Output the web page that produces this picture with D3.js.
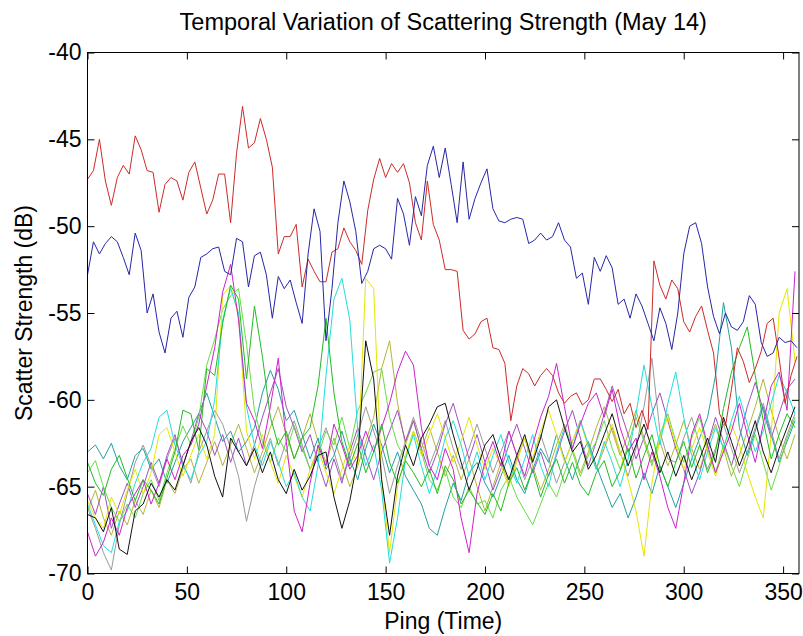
<!DOCTYPE html>
<html>
<head>
  <meta charset="utf-8">
  <script src="https://d3js.org/d3.v7.min.js"></script>
  <style>
    body { margin: 0; background: white; }
    svg { display: block; font-family: "Liberation Sans", Arial, sans-serif; }
    .tick text { font-size: 23px; fill: black; }
    .tick line { stroke: black; }
    .axis path.domain { display: none; }
  </style>
</head>
<body>
<script type="text/javascript">
// ping numbers are sample index * step
var mainStep = 3;   // red / blue traces
var noiseStep = 4;  // the other traces

var xTicks = [0, 50, 100, 150, 200, 250, 300, 350];
var yTicks = [-70, -65, -60, -55, -50, -45, -40];

var red = [
  -47.3,-46.8,-45.0,-47.4,-48.8,-47.2,-46.5,-47.0,-44.8,-45.6,
  -46.8,-46.9,-49.2,-47.6,-47.2,-47.4,-48.5,-46.9,-46.3,-47.8,
  -49.3,-48.5,-47.0,-47.0,-49.8,-45.8,-43.1,-45.5,-45.2,-43.8,
  -45.0,-46.6,-51.6,-50.6,-50.6,-49.9,-53.5,-51.9,-52.6,-53.2,
  -53.2,-51.5,-51.3,-50.1,-50.9,-51.4,-52.2,-49.1,-47.3,-46.1,
  -47.2,-46.4,-46.9,-46.4,-47.5,-49.8,-50.8,-47.4,-49.9,-50.8,
  -52.5,-52.5,-52.6,-56.0,-56.5,-56.2,-55.5,-55.3,-57.0,-57.1,
  -57.9,-61.2,-59.2,-58.2,-58.5,-59.2,-58.6,-58.2,-58.6,-59.6,
  -60.2,-59.8,-59.6,-60.3,-60.0,-58.8,-58.8,-59.4,-60.1,-59.4,
  -60.8,-60.2,-61.6,-60.6,-61.7,-52.0,-53.4,-54.2,-53.1,-53.6,
  -55.5,-56.1,-55.2,-54.6,-56.0,-57.3,-60.8,-61.5,-59.4,-57.0,
  -57.8,-59.0,-58.2,-57.2,-55.6,-55.3,-57.6,-60.2,-58.6,-57.5
];

var blue = [
  -52.8,-50.9,-51.6,-51.0,-50.6,-50.9,-51.8,-52.8,-50.4,-51.4,
  -55.0,-53.9,-56.1,-57.3,-55.3,-54.9,-56.4,-54.1,-53.5,-51.8,
  -51.6,-51.3,-51.2,-52.6,-52.8,-50.7,-50.9,-53.5,-51.7,-51.5,
  -52.8,-55.3,-52.9,-53.6,-53.1,-54.4,-55.6,-51.6,-49.0,-50.3,
  -56.6,-53.6,-49.8,-47.4,-48.6,-50.3,-53.3,-52.6,-51.3,-51.1,
  -51.3,-51.9,-48.4,-49.3,-51.1,-48.3,-49.4,-46.5,-45.4,-47.2,
  -45.5,-47.6,-49.8,-46.3,-49.6,-48.4,-47.5,-46.7,-49.0,-49.7,
  -49.8,-49.6,-49.5,-49.6,-51.0,-50.8,-50.4,-50.8,-50.6,-49.8,
  -50.8,-51.2,-53.0,-52.7,-54.5,-51.8,-52.6,-51.7,-52.4,-54.5,
  -54.2,-55.3,-53.9,-54.6,-55.6,-56.6,-54.7,-55.6,-57.1,-55.0,
  -51.6,-50.0,-49.8,-51.0,-53.5,-55.2,-56.2,-55.0,-55.8,-56.0,
  -55.5,-54.0,-54.5,-56.7,-57.5,-57.3,-56.4,-56.7,-56.6,-57.0
];

var green = [
  -63.6,-64.8,-65.5,-64.0,-63.2,-64.5,-65.8,-64.6,-65.2,-66.0,
  -64.5,-63.0,-60.6,-60.8,-62.9,-58.2,-58.6,-55.6,-53.4,-54.2,
  -58.8,-54.6,-57.5,-61.0,-62.6,-61.8,-63.4,-62.2,-61.6,-59.2,
  -55.3,-59.6,-62.4,-63.8,-62.5,-64.2,-63.0,-61.4,-63.6,-64.8,
  -63.5,-64.2,-65.0,-64.0,-65.4,-63.8,-64.6,-66.0,-65.2,-65.9,
  -66.6,-65.4,-66.4,-64.8,-63.9,-65.2,-64.0,-65.6,-64.3,-63.4,
  -64.8,-63.6,-64.9,-65.5,-64.2,-63.5,-65.0,-64.1,-62.8,-64.5,
  -63.2,-62.0,-63.8,-65.0,-63.6,-62.4,-63.9,-62.6,-64.2,-63.0,
  -60.5,-58.4,-57.0,-55.8,-58.6,-61.2,-63.4,-62.0,-60.8,-61.6
];

var lime = [
  -64.2,-63.5,-65.0,-66.2,-67.0,-66.0,-66.8,-65.4,-64.6,-65.8,
  -64.2,-62.8,-61.5,-62.6,-61.0,-58.0,-56.5,-54.8,-54.0,-53.6,
  -56.8,-60.6,-62.4,-63.6,-62.2,-63.0,-61.5,-62.8,-64.0,-63.2,
  -61.8,-62.6,-61.0,-62.8,-60.6,-59.6,-58.4,-58.2,-61.0,-62.6,
  -63.4,-61.8,-63.0,-64.6,-65.2,-64.0,-65.6,-66.2,-65.0,-66.0,
  -65.8,-66.8,-65.2,-64.4,-65.6,-66.4,-67.2,-66.0,-64.8,-65.6,
  -64.2,-63.0,-64.4,-63.2,-62.4,-61.2,-62.8,-64.0,-62.6,-61.0,
  -62.4,-63.8,-62.0,-60.8,-62.4,-63.6,-62.2,-61.0,-62.8,-64.2,
  -62.6,-63.8,-65.0,-63.4,-62.0,-63.6,-65.2,-63.8,-62.2,-61.0
];

var cyan = [
  -66.0,-67.2,-68.4,-68.8,-67.0,-66.4,-64.8,-63.6,-62.8,-61.0,
  -60.6,-62.6,-63.8,-64.6,-63.2,-62.4,-60.0,-55.4,-53.6,-55.0,
  -60.4,-62.6,-63.8,-62.4,-63.6,-65.0,-64.2,-65.6,-66.4,-63.8,
  -58.6,-54.2,-53.0,-55.4,-61.8,-63.8,-62.6,-65.2,-69.4,-66.8,
  -63.4,-62.0,-63.8,-65.4,-64.0,-62.2,-61.2,-62.6,-64.4,-63.0,
  -64.6,-63.2,-62.0,-63.6,-64.8,-63.4,-62.0,-63.8,-65.0,-63.0,
  -61.6,-62.8,-61.2,-62.6,-64.0,-62.4,-63.6,-65.0,-63.4,-60.8,
  -58.0,-60.4,-62.6,-60.2,-58.4,-61.0,-63.2,-64.6,-63.0,-61.6,
  -62.8,-61.2,-59.8,-61.4,-63.0,-61.8,-60.2,-58.6,-59.6,-60.8
];

var teal = [
  -63.0,-62.6,-63.4,-62.5,-63.8,-64.6,-63.2,-62.8,-64.0,-63.4,
  -64.8,-63.6,-62.4,-61.6,-60.8,-59.6,-61.0,-62.4,-61.8,-63.0,
  -62.4,-61.6,-59.6,-58.3,-59.4,-61.2,-60.6,-62.0,-63.4,-62.2,
  -64.0,-63.2,-61.8,-63.4,-64.6,-62.8,-61.4,-62.6,-64.2,-63.0,
  -64.4,-65.2,-66.0,-67.4,-67.8,-66.2,-64.8,-65.8,-64.2,-63.6,
  -64.8,-65.6,-64.4,-63.2,-64.6,-65.4,-64.0,-62.8,-63.6,-62.0,
  -63.4,-64.6,-63.2,-62.4,-63.8,-65.0,-66.2,-65.4,-66.8,-65.6,
  -64.2,-65.4,-63.8,-65.0,-66.2,-64.8,-63.4,-62.2,-61.0,-58.6,
  -54.4,-57.0,-61.6,-63.2,-61.8,-60.4,-62.0,-63.6,-62.4,-61.2
];

var magenta = [
  -67.6,-69.0,-68.2,-66.8,-67.8,-66.2,-65.4,-64.6,-66.0,-64.8,
  -63.4,-64.6,-63.2,-62.6,-61.4,-59.2,-57.0,-53.8,-52.2,-55.4,
  -60.2,-61.2,-62.8,-60.4,-57.6,-62.4,-66.4,-67.6,-64.8,-62.6,
  -63.8,-61.4,-62.6,-64.0,-63.2,-61.8,-63.0,-61.6,-60.2,-58.4,
  -57.2,-58.0,-61.6,-63.8,-64.6,-62.8,-64.0,-66.8,-68.8,-65.4,
  -63.6,-62.4,-63.8,-61.8,-63.2,-64.4,-62.6,-61.0,-59.8,-57.9,
  -60.4,-62.8,-61.4,-60.2,-59.6,-61.0,-59.4,-61.6,-63.0,-62.2,
  -64.6,-63.0,-64.4,-66.2,-67.4,-64.8,-62.0,-60.8,-62.6,-64.2,
  -63.0,-61.8,-60.2,-62.0,-63.6,-61.4,-59.2,-58.4,-60.6,-52.6
];

var purple = [
  -65.4,-66.6,-65.0,-67.4,-66.0,-64.8,-66.2,-65.0,-63.6,-64.8,
  -63.2,-62.0,-63.8,-62.4,-60.8,-61.8,-63.2,-62.0,-63.6,-62.2,
  -63.8,-62.6,-61.0,-59.6,-58.2,-60.4,-61.6,-63.0,-62.0,-63.6,
  -65.0,-63.4,-64.8,-63.0,-61.6,-63.2,-64.6,-63.0,-61.8,-60.6,
  -62.4,-61.2,-62.8,-64.2,-63.0,-61.4,-60.2,-61.8,-63.4,-62.0,
  -63.6,-65.2,-64.0,-62.6,-61.4,-62.8,-64.2,-63.0,-64.4,-63.2,
  -61.8,-60.6,-62.2,-63.8,-62.4,-60.8,-59.2,-60.6,-62.0,-63.4,
  -62.2,-60.8,-59.6,-61.2,-62.8,-64.0,-65.4,-64.2,-62.6,-61.0,
  -62.4,-63.8,-62.2,-60.4,-59.0,-60.6,-62.2,-60.8,-59.4,-58.8
];

var yellow = [
  -65.8,-66.8,-67.4,-65.6,-66.6,-65.2,-64.0,-65.4,-64.2,-62.0,
  -61.6,-63.0,-64.4,-63.2,-62.0,-63.4,-62.0,-54.0,-53.4,-55.2,
  -61.8,-63.4,-62.0,-63.6,-64.8,-63.2,-64.4,-65.6,-64.0,-62.8,
  -64.2,-65.4,-64.0,-62.6,-63.8,-53.0,-53.6,-64.6,-68.8,-65.0,
  -63.2,-61.8,-63.2,-62.0,-60.8,-62.2,-63.6,-62.4,-61.0,-62.6,
  -64.0,-62.8,-63.8,-65.0,-63.6,-62.2,-63.4,-61.8,-60.6,-62.0,
  -63.6,-62.4,-61.2,-62.8,-64.0,-62.6,-61.4,-63.0,-64.6,-66.4,
  -69.0,-64.8,-62.2,-61.0,-62.6,-64.0,-62.8,-61.6,-63.0,-64.4,
  -62.8,-61.4,-62.6,-64.2,-65.6,-66.8,-62.0,-55.0,-53.6,-57.8
];

var olive = [
  -66.4,-65.2,-66.8,-67.8,-66.4,-67.2,-65.8,-66.6,-65.2,-66.2,
  -64.6,-65.4,-64.0,-63.4,-64.8,-63.6,-62.4,-63.8,-62.6,-61.4,
  -62.8,-64.2,-63.0,-61.6,-60.4,-62.0,-63.4,-62.2,-60.8,-62.4,
  -63.6,-62.2,-63.6,-65.0,-63.8,-62.4,-61.0,-58.2,-56.6,-60.2,
  -62.6,-61.2,-62.8,-61.6,-63.0,-64.4,-63.2,-64.6,-63.4,-65.0,
  -66.4,-65.0,-63.6,-64.8,-63.4,-62.2,-63.8,-65.2,-64.0,-62.6,
  -61.4,-62.8,-64.2,-63.0,-61.6,-60.4,-61.8,-63.2,-62.0,-60.6,
  -62.2,-63.6,-62.4,-63.8,-62.6,-61.2,-62.8,-64.0,-62.6,-61.4,
  -62.8,-64.4,-63.2,-61.8,-60.4,-58.8,-60.6,-62.2,-63.4,-62.0
];

var black = [
  -66.6,-66.8,-67.6,-66.2,-68.6,-68.9,-66.4,-66.0,-64.8,-65.6,
  -64.6,-65.2,-63.8,-62.4,-61.6,-62.6,-64.4,-65.6,-62.2,-63.0,
  -63.8,-62.8,-64.2,-63.0,-64.6,-65.4,-64.0,-65.2,-64.4,-63.2,
  -63.0,-65.6,-67.4,-65.8,-63.4,-56.6,-58.8,-64.6,-67.8,-64.4,
  -62.6,-63.8,-62.2,-61.4,-60.4,-60.2,-62.0,-63.6,-65.2,-64.0,
  -62.6,-62.0,-63.4,-64.6,-63.2,-62.0,-63.6,-62.2,-60.4,-60.0,
  -61.6,-63.0,-62.4,-64.0,-63.2,-62.0,-60.8,-62.4,-63.8,-62.6,
  -61.4,-62.8,-64.2,-63.0,-64.4,-63.2,-64.6,-63.4,-62.2,-63.6,
  -61.0,-62.4,-63.8,-62.6,-61.2,-63.0,-64.2,-62.8,-61.6,-60.4
];

var gray = [
  -66.2,-67.4,-68.8,-69.8,-67.2,-65.4,-63.6,-62.6,-63.8,-65.0,
  -63.4,-62.2,-63.6,-64.8,-63.0,-61.8,-60.6,-61.4,-62.8,-64.4,
  -67.0,-65.0,-63.4,-62.2,-63.8,-62.4,-61.2,-62.6,-64.0,-62.8,
  -61.6,-63.0,-64.6,-63.4,-62.0,-60.4,-61.8,-63.2,-65.4,-63.8,
  -62.4,-61.0,-62.4,-63.8,-62.6,-61.2,-62.8,-64.0,-62.8,-61.4,
  -62.8,-64.2,-63.0,-61.8,-63.2,-64.6,-63.4,-62.0,-63.4,-64.8,
  -63.6,-62.4,-61.2,-62.6,-64.0,-62.8,-61.6,-63.0,-64.4,-62.8,
  -60.4,-57.6,-61.8,-63.4,-63.6,-62.2,-61.0,-62.6,-64.0,-62.8,
  -61.4,-62.8,-64.2,-63.0,-61.6,-60.2,-61.8,-63.4,-62.0,-60.8
];

// drawing order: noise band first, the two strong traces on top
var series = [
  {values: gray,    step: noiseStep, color: "#9a9a9a"},
  {values: olive,   step: noiseStep, color: "#b4b43a"},
  {values: purple,  step: noiseStep, color: "#a050c0"},
  {values: teal,    step: noiseStep, color: "#22a0a0"},
  {values: lime,    step: noiseStep, color: "#66dd44"},
  {values: yellow,  step: noiseStep, color: "#e6e600"},
  {values: cyan,    step: noiseStep, color: "#22dddd"},
  {values: magenta, step: noiseStep, color: "#cc22cc"},
  {values: green,   step: noiseStep, color: "#22bb22"},
  {values: black,   step: noiseStep, color: "#111111"},
  {values: red,     step: mainStep,  color: "#cc2a2a"},
  {values: blue,    step: mainStep,  color: "#2626a6"}
];

var W = 803, H = 636;
// plot box (not "top": that name is taken by window.top)
var pLeft = 87.5, pTop = 52.5, pRight = 799, pBottom = 573.5;

var svg = d3.select("body").append("svg")
  .attr("width", W)
  .attr("height", H);

svg.append("rect").attr("width", W).attr("height", H).attr("fill", "white");

var x = d3.scaleLinear().domain([0, 358]).range([pLeft, pRight]);
var y = d3.scaleLinear().domain([-70, -40]).range([pBottom, pTop]);

svg.append("clipPath").attr("id", "plotclip")
  .append("rect")
  .attr("x", pLeft).attr("y", pTop)
  .attr("width", pRight - pLeft).attr("height", pBottom - pTop);

var line = function(step) {
  return d3.line()
    .x(function(d, i) { return x(i * step); })
    .y(function(d) { return y(d); });
};

var plot = svg.append("g").attr("clip-path", "url(#plotclip)");
series.forEach(function(s) {
  plot.append("path")
    .datum(s.values)
    .attr("fill", "none")
    .attr("stroke", s.color)
    .attr("stroke-width", 1)
    .attr("stroke-linejoin", "round")
    .attr("d", line(s.step));
});

var fmt = function(d) { return String(d); };
var none = function() { return ""; };

svg.append("g").attr("class", "axis")
  .attr("transform", "translate(0," + pBottom + ")")
  .call(d3.axisBottom(x).tickValues(xTicks).tickFormat(fmt)
    .tickSizeInner(-7).tickSizeOuter(0).tickPadding(10));

svg.append("g").attr("class", "axis")
  .attr("transform", "translate(0," + pTop + ")")
  .call(d3.axisTop(x).tickValues(xTicks).tickFormat(none)
    .tickSizeInner(-7).tickSizeOuter(0));

svg.append("g").attr("class", "axis")
  .attr("transform", "translate(" + pLeft + ",0)")
  .call(d3.axisLeft(y).tickValues(yTicks).tickFormat(fmt)
    .tickSizeInner(-7).tickSizeOuter(0).tickPadding(6));

svg.append("g").attr("class", "axis")
  .attr("transform", "translate(" + pRight + ",0)")
  .call(d3.axisRight(y).tickValues(yTicks).tickFormat(none)
    .tickSizeInner(-7).tickSizeOuter(0));

// box
svg.append("rect")
  .attr("x", pLeft).attr("y", pTop)
  .attr("width", pRight - pLeft).attr("height", pBottom - pTop)
  .attr("fill", "none")
  .attr("stroke", "black")
  .attr("stroke-width", 1);

svg.append("text")
  .attr("x", (pLeft + pRight) / 2)
  .attr("y", 30)
  .attr("text-anchor", "middle")
  .style("font-size", "23.5px")
  .text("Temporal Variation of Scattering Strength (May 14)");

svg.append("text")
  .attr("x", (pLeft + pRight) / 2)
  .attr("y", 629)
  .attr("text-anchor", "middle")
  .style("font-size", "23px")
  .text("Ping (Time)");

svg.append("text")
  .attr("transform", "translate(32," + ((pTop + pBottom) / 2) + ") rotate(-90)")
  .attr("text-anchor", "middle")
  .style("font-size", "23px")
  .text("Scatter Strength (dB)");
</script>
</body>
</html>
